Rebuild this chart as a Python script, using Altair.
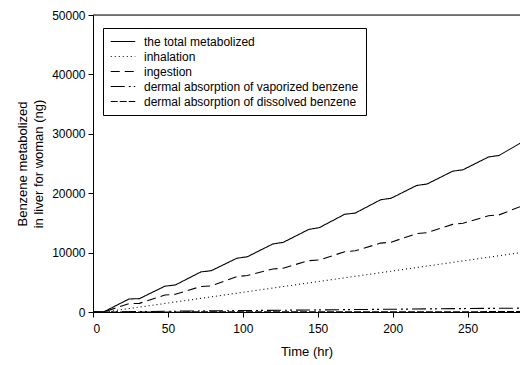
import altair as alt
import pandas as pd

series_names = [
    "the total metabolized",
    "inhalation",
    "ingestion",
    "dermal absorption of vaporized benzene",
    "dermal absorption of dissolved benzene",
]

step_times = [0, 7, 24, 31, 48, 55, 72, 79, 96, 103, 120, 127, 144, 151,
              168, 175, 192, 199, 216, 223, 240, 247, 264, 271, 285]
total_vals = [0, 0, 2190, 2250, 4350, 4550, 6750, 6960, 9050, 9300, 11450, 11730,
              13900, 14200, 16450, 16650, 18900, 19150, 21300, 21550, 23700, 23950,
              26100, 26350, 28400]
ingestion_vals = [0, 0, 1400, 1450, 2860, 2980, 4300, 4400, 5950, 6150, 7250, 7380,
                  8650, 8750, 10150, 10300, 11600, 11750, 13200, 13350, 14750, 14950,
                  16200, 16350, 17720]

inh_times = [0, 8, 24, 48, 72, 96, 120, 144, 168, 192, 216, 240, 264, 285]
inhalation_vals = [0, 0, 580, 1440, 2300, 3170, 4030, 4900, 5760, 6620, 7490, 8350, 9220, 9980]

derm_times = [0, 8, 48, 96, 144, 192, 240, 285]
vaporized_vals = [0, 0, 120, 230, 340, 450, 560, 650]
dissolved_vals = [0, 0, 10, 20, 30, 40, 50, 60]

x_ticks = [0, 50, 100, 150, 200, 250]
y_ticks = [0, 10000, 20000, 30000, 40000, 50000]

rows = []
for t, v in zip(step_times, total_vals):
    rows.append({"t": t, "v": v, "s": series_names[0]})
for t, v in zip(inh_times, inhalation_vals):
    rows.append({"t": t, "v": v, "s": series_names[1]})
for t, v in zip(step_times, ingestion_vals):
    rows.append({"t": t, "v": v, "s": series_names[2]})
for t, v in zip(derm_times, vaporized_vals):
    rows.append({"t": t, "v": v, "s": series_names[3]})
for t, v in zip(derm_times, dissolved_vals):
    rows.append({"t": t, "v": v, "s": series_names[4]})
df = pd.DataFrame(rows)

FONT = "Liberation Sans"

lines = alt.Chart(df).mark_line(color="black", strokeWidth=1.1, clip=True).encode(
    x=alt.X("t:Q", scale=alt.Scale(domain=[0, 285], nice=False),
            axis=alt.Axis(values=x_ticks, title="Time (hr)", grid=False,
                          domainColor="black", tickColor="black", tickSize=5,
                          labelFont=FONT, labelFontSize=12, labelColor="black",
                          titleFont=FONT, titleFontSize=13, titleFontWeight="normal",
                          titleColor="black", titlePadding=11, labelPadding=6)),
    y=alt.Y("v:Q", scale=alt.Scale(domain=[0, 50000], nice=False),
            axis=alt.Axis(values=y_ticks, format="d",
                          title=["Benzene metabolized", "in liver for woman (ng)"],
                          grid=False, domainColor="black", tickColor="black", tickSize=5,
                          labelFont=FONT, labelFontSize=12, labelColor="black",
                          titleFont=FONT, titleFontSize=13, titleFontWeight="normal",
                          titleColor="black", titlePadding=6, labelPadding=3,
                          titleLineHeight=16)),
    strokeDash=alt.StrokeDash(
        "s:N",
        scale=alt.Scale(domain=series_names,
                        range=[[1, 0], [1, 3], [9, 5], [14, 4, 2, 3, 2, 4], [7, 2]]),
        legend=alt.Legend(title=None, orient="none", legendX=10, legendY=13,
                          symbolType="stroke", symbolSize=600, symbolStrokeColor="black",
                          symbolStrokeWidth=1.1, clipHeight=13,
                          labelFont=FONT, labelFontSize=12, labelColor="black",
                          rowPadding=2, labelOffset=8,
                          strokeColor="black", fillColor="white", padding=7,
                          labelLimit=400),
    ),
    detail="s:N",
    order="t:Q",
)

top_rule = alt.Chart(pd.DataFrame({"v": [50000]})).mark_rule(color="black", strokeWidth=1).encode(
    y="v:Q"
)

chart = alt.layer(lines, top_rule).properties(
    width=427, height=297,
    autosize=alt.AutoSizeParams(type="none"),
    padding={"left": 93, "top": 15, "right": 0, "bottom": 53},
).configure_view(stroke=None).configure(background="white")

chart.save("out.html", embed_options={"renderer": "svg", "actions": False})
